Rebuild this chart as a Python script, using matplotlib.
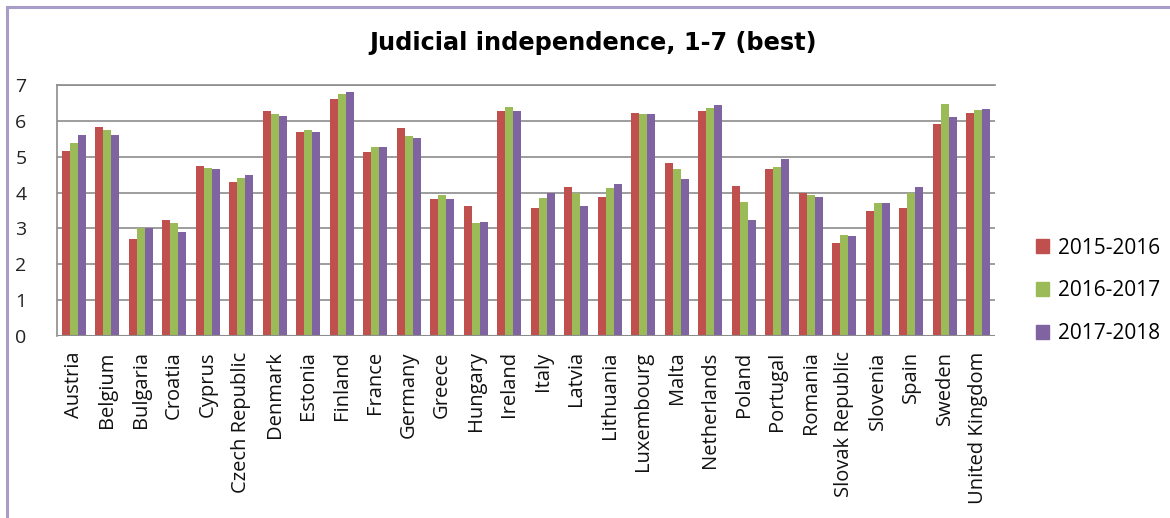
import numpy as np
import matplotlib
matplotlib.use("Agg")
import matplotlib.pyplot as plt
from matplotlib.patches import Rectangle
from matplotlib.lines import Line2D

# --- DATA ---
countries = ["Austria", "Belgium", "Bulgaria", "Croatia", "Cyprus", "Czech Republic",
             "Denmark", "Estonia", "Finland", "France", "Germany", "Greece", "Hungary",
             "Ireland", "Italy", "Latvia", "Lithuania", "Luxembourg", "Malta",
             "Netherlands", "Poland", "Portugal", "Romania", "Slovak Republic",
             "Slovenia", "Spain", "Sweden", "United Kingdom"]
y2015_16 = [5.16, 5.83, 2.70, 3.23, 4.74, 4.29, 6.27, 5.70, 6.60, 5.12, 5.79, 3.81, 3.62,
            6.27, 3.56, 4.16, 3.88, 6.21, 4.83, 6.27, 4.19, 4.65, 3.98, 2.59, 3.49, 3.56,
            5.92, 6.21]
y2016_17 = [5.38, 5.74, 3.00, 3.14, 4.68, 4.42, 6.18, 5.74, 6.75, 5.28, 5.57, 3.93, 3.14,
            6.40, 3.85, 3.98, 4.13, 6.18, 4.65, 6.37, 3.75, 4.70, 3.93, 2.82, 3.72, 4.00,
            6.47, 6.30]
y2017_18 = [5.60, 5.60, 3.00, 2.89, 4.65, 4.48, 6.14, 5.70, 6.81, 5.28, 5.51, 3.81, 3.17,
            6.27, 4.00, 3.63, 4.23, 6.18, 4.39, 6.44, 3.23, 4.93, 3.88, 2.79, 3.72, 4.16,
            6.11, 6.34]
series_names = ["2015-2016", "2016-2017", "2017-2018"]
colors = ["#C0504D", "#9BBB59", "#8064A2"]
yticks = [0, 1, 2, 3, 4, 5, 6, 7]

FONT = ["Open Sans", "DejaVu Sans"]

fig = plt.figure(figsize=(11.7, 5.18), dpi=100)
ax = fig.add_axes([57 / 1170, 1 - 336 / 518, 938 / 1170, 251 / 518])

x = np.arange(len(countries))
w = 0.235
for i, (vals, c, name) in enumerate(zip([y2015_16, y2016_17, y2017_18], colors, series_names)):
    ax.bar(x + (i - 1) * w, vals, width=w, color=c, label=name, zorder=3)

ax.set_xlim(-0.5, len(countries) - 0.5)
ax.set_ylim(0, 7)
ax.set_yticks(yticks)
ax.set_yticklabels([str(t) for t in yticks], fontsize=14, family=FONT, color="#222222")
ax.set_xticks(x)
ax.set_xticklabels(countries, rotation=90, fontsize=14.5, family=FONT, color="#111111")
ax.tick_params(axis="x", length=0, pad=11)
ax.tick_params(axis="y", length=0, pad=22)
ax.grid(axis="y", color="#8c8c8c", linewidth=1.2, zorder=0)
for s in ["right", "bottom"]:
    ax.spines[s].set_visible(False)
ax.spines["top"].set_color("#8c8c8c")
ax.spines["top"].set_linewidth(1.2)
ax.spines["left"].set_color("#8c8c8c")
ax.spines["left"].set_linewidth(1.2)
ax.axhline(0, color="#8c8c8c", linewidth=1.5, zorder=4)

fig.text(593 / 1170, 1 - 43 / 518, "Judicial independence, 1-7 (best)", ha="center", va="center",
         fontsize=17.3, fontweight="bold", family=["DejaVu Sans"])

# legend
handles = [Rectangle((0, 0), 1, 1, color=c) for c in colors]
fig.legend(handles, series_names, loc="center left", bbox_to_anchor=(1017 / 1170, 1 - 291 / 518),
           frameon=False, prop={"family": FONT, "size": 15},
           handlelength=0.65, handleheight=0.65, handletextpad=0.4, labelspacing=1.05)

# outer frame (light purple)
fig.add_artist(Line2D([6.5 / 1170, 6.5 / 1170], [0, 1 - 7 / 518], color="#A89CC8", linewidth=2.2))
fig.add_artist(Line2D([6.5 / 1170, 1], [1 - 7 / 518, 1 - 7 / 518], color="#A89CC8", linewidth=2.2))

fig.savefig("out.png", dpi=100)
